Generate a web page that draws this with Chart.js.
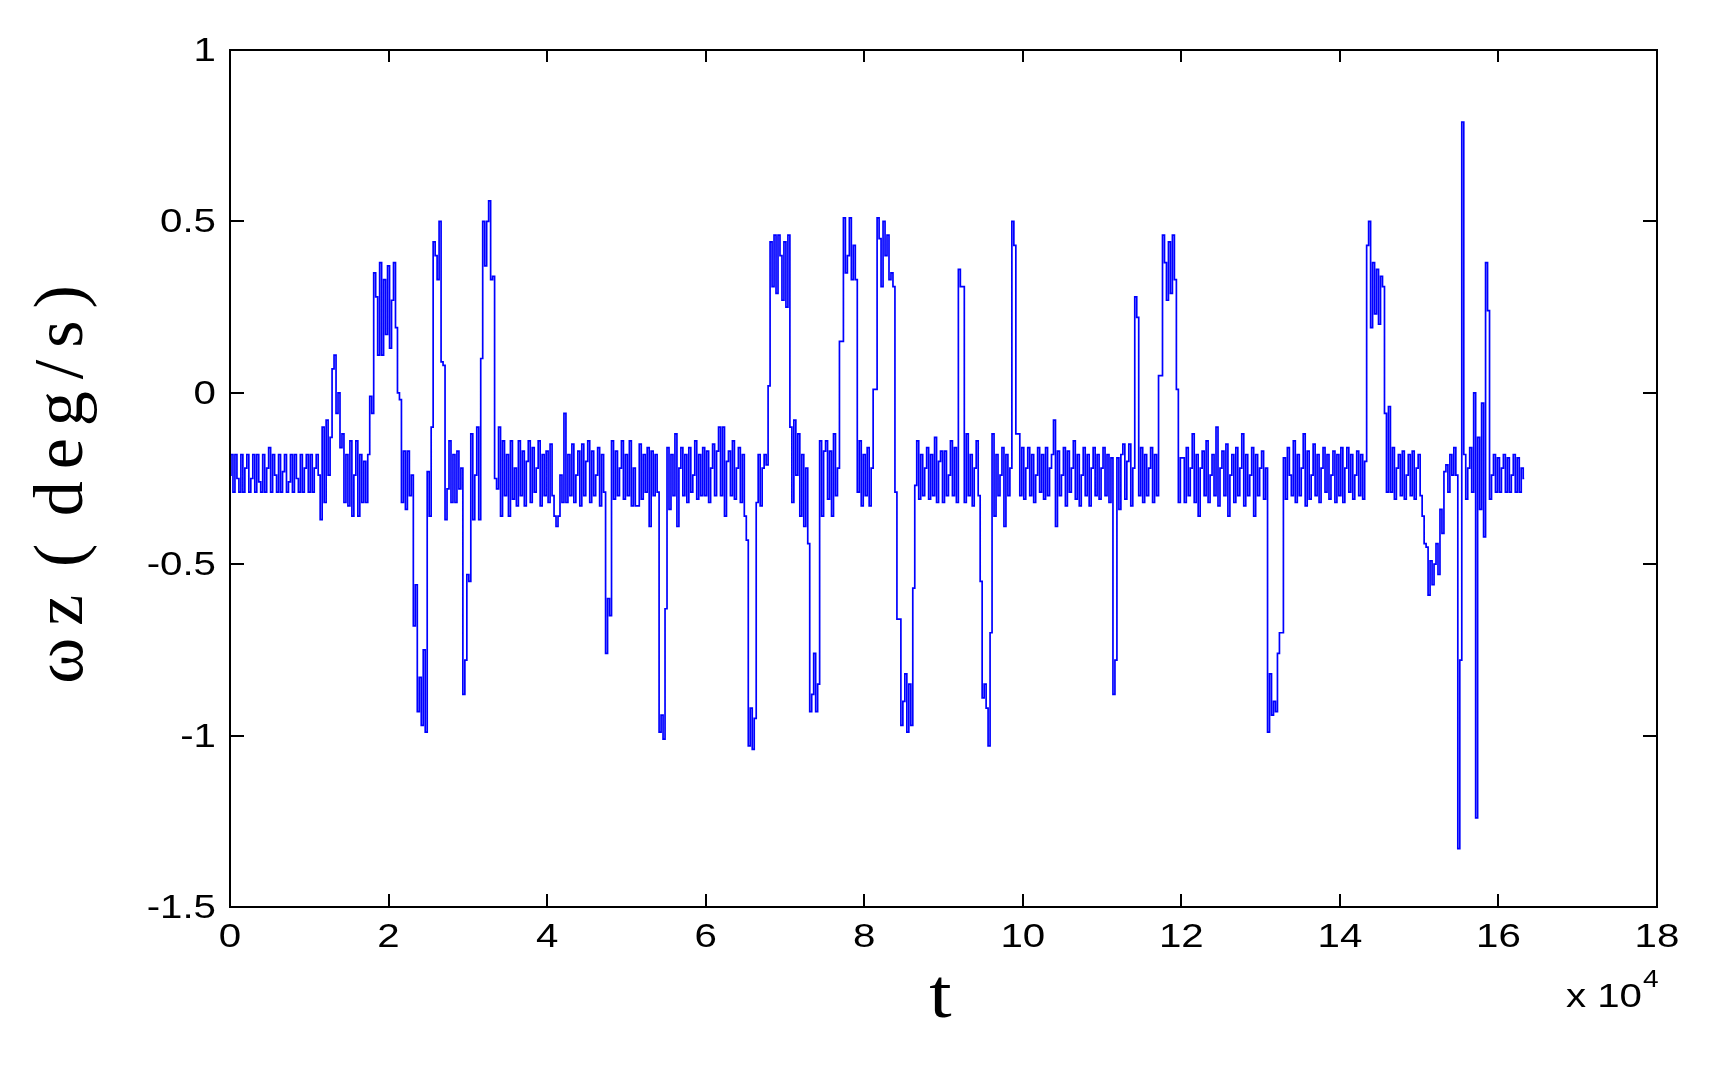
<!DOCTYPE html>
<html lang="en">
<head>
    <meta charset="UTF-8">
    <title>ωz (deg/s) vs t</title>
    <script src="https://cdn.jsdelivr.net/npm/chart.js"></script>
    <style>
        * {
            margin: 0;
            padding: 0;
        }
        body {
            background: #fff;
        }
        #chartContainer {
            width: 1722px;
            height: 1066px;
        }
    </style>
</head>
<body>
    <div id="chartContainer">
        <canvas id="wzChart"></canvas>
    </div>

    <script>
        // sample spacing on the t axis (units of 10^4)
        const dt = 0.025;

        // angular rate wz (deg/s), one row per 10^4 of t (40 samples each)
        const wz = [
            -0.24, -0.18, -0.29, -0.18, -0.25, -0.29, -0.18, -0.29, -0.22, -0.18, -0.29, -0.25, -0.18, -0.29, -0.18, -0.26, -0.29, -0.18, -0.29, -0.22,
            -0.16, -0.29, -0.18, -0.24, -0.29, -0.18, -0.29, -0.23, -0.18, -0.29, -0.26, -0.18, -0.29, -0.18, -0.25, -0.29, -0.18, -0.29, -0.22, -0.18,

            -0.29, -0.18, -0.29, -0.22, -0.18, -0.24, -0.37, -0.10, -0.32, -0.08, -0.24, -0.13,  0.07,  0.11, -0.06,  0.00, -0.16, -0.12, -0.32, -0.18,
            -0.33, -0.14, -0.36, -0.24, -0.14, -0.36, -0.18, -0.32, -0.20, -0.32, -0.18, -0.01, -0.06,  0.35,  0.28,  0.11,  0.38,  0.11,  0.33,  0.17,

             0.37,  0.13,  0.27,  0.38,  0.19,  0.00, -0.02, -0.32, -0.17, -0.34, -0.17, -0.30, -0.24, -0.68, -0.56, -0.93, -0.83, -0.97, -0.75, -0.99,
            -0.23, -0.36, -0.10,  0.44,  0.40,  0.33,  0.50,  0.09,  0.08, -0.37, -0.28, -0.14, -0.32, -0.18, -0.32, -0.17, -0.28, -0.22, -0.88, -0.78,

            -0.53, -0.55, -0.12, -0.37, -0.24, -0.10, -0.37,  0.10,  0.50,  0.37,  0.50,  0.56,  0.33,  0.34, -0.25, -0.28, -0.10, -0.36, -0.14, -0.30,
            -0.18, -0.36, -0.14, -0.31, -0.22, -0.33, -0.14, -0.30, -0.17, -0.33, -0.20, -0.14, -0.32, -0.16, -0.29, -0.22, -0.14, -0.33, -0.18, -0.30,

            -0.17, -0.32, -0.15, -0.30, -0.36, -0.39, -0.36, -0.24, -0.32, -0.06, -0.32, -0.18, -0.30, -0.15, -0.32, -0.24, -0.17, -0.33, -0.15, -0.30,
            -0.20, -0.14, -0.32, -0.17, -0.30, -0.24, -0.16, -0.33, -0.18, -0.29, -0.76, -0.60, -0.65, -0.14, -0.31, -0.17, -0.30, -0.22, -0.14, -0.31,

            -0.18, -0.30, -0.14, -0.33, -0.22, -0.33, -0.33, -0.15, -0.31, -0.18, -0.29, -0.16, -0.39, -0.17, -0.30, -0.18, -0.29, -0.99, -0.94, -1.01,
            -0.63, -0.16, -0.34, -0.18, -0.30, -0.12, -0.39, -0.22, -0.16, -0.30, -0.18, -0.32, -0.16, -0.29, -0.24, -0.14, -0.31, -0.18, -0.30, -0.16,

            -0.30, -0.17, -0.32, -0.22, -0.15, -0.30, -0.17, -0.10, -0.30, -0.10, -0.36, -0.20, -0.17, -0.30, -0.14, -0.31, -0.22, -0.16, -0.32, -0.18,
            -0.36, -0.43, -1.03, -0.92, -1.04, -0.95, -0.32, -0.18, -0.33, -0.22, -0.18, -0.21,  0.02,  0.44,  0.31,  0.46,  0.29,  0.46,  0.40,  0.27,

             0.44,  0.25,  0.46, -0.10, -0.32, -0.08, -0.24, -0.12, -0.36, -0.18, -0.39, -0.22, -0.44, -0.93, -0.88, -0.76, -0.93, -0.85, -0.14, -0.36,
            -0.17, -0.14, -0.31, -0.17, -0.36, -0.12, -0.30, -0.22,  0.15,  0.15,  0.51,  0.35,  0.40,  0.51,  0.33,  0.43,  0.33, -0.29, -0.14, -0.33,

            -0.18, -0.30, -0.16, -0.33, -0.22,  0.01,  0.01,  0.51,  0.45,  0.31,  0.50,  0.40,  0.46,  0.33,  0.35,  0.31, -0.29, -0.66, -0.66, -0.97,
            -0.90, -0.82, -0.99, -0.85, -0.97, -0.57, -0.27, -0.14, -0.31, -0.18, -0.30, -0.22, -0.16, -0.31, -0.18, -0.30, -0.13, -0.32, -0.20, -0.17,

            -0.32, -0.17, -0.30, -0.24, -0.14, -0.30, -0.16, -0.32,  0.36,  0.31,  0.31, -0.32, -0.12, -0.30, -0.18, -0.33, -0.22, -0.14, -0.30, -0.55,
            -0.89, -0.85, -0.92, -1.03, -0.70, -0.12, -0.36, -0.18, -0.30, -0.24, -0.16, -0.39, -0.18, -0.30, -0.22,  0.50,  0.43, -0.12, -0.12, -0.30,

            -0.16, -0.31, -0.22, -0.16, -0.30, -0.18, -0.32, -0.24, -0.16, -0.29, -0.18, -0.31, -0.16, -0.30, -0.22, -0.18, -0.08, -0.39, -0.17, -0.30,
            -0.24, -0.16, -0.33, -0.17, -0.29, -0.22, -0.14, -0.31, -0.18, -0.33, -0.24, -0.16, -0.30, -0.18, -0.33, -0.22, -0.16, -0.30, -0.18, -0.31,

            -0.22, -0.16, -0.30, -0.18, -0.32, -0.19, -0.88, -0.78, -0.19, -0.34, -0.18, -0.15, -0.31, -0.20, -0.15, -0.33, -0.22,  0.28,  0.22, -0.30,
            -0.16, -0.32, -0.18, -0.30, -0.22, -0.16, -0.32, -0.18, -0.30,  0.05,  0.05,  0.46,  0.38,  0.27,  0.44,  0.29,  0.46,  0.33,  0.01, -0.32,

            -0.19, -0.19, -0.32, -0.16, -0.30, -0.22, -0.12, -0.32, -0.18, -0.36, -0.22, -0.17, -0.30, -0.14, -0.32, -0.24, -0.18, -0.30, -0.10, -0.33,
            -0.22, -0.17, -0.30, -0.15, -0.36, -0.24, -0.18, -0.32, -0.16, -0.30, -0.22, -0.12, -0.33, -0.18, -0.30, -0.24, -0.16, -0.36, -0.18, -0.30,

            -0.22, -0.17, -0.31, -0.22, -0.99, -0.82, -0.94, -0.90, -0.93, -0.76, -0.70, -0.70, -0.19, -0.31, -0.16, -0.24, -0.30, -0.14, -0.32, -0.18,
            -0.30, -0.22, -0.12, -0.33, -0.17, -0.31, -0.24, -0.15, -0.30, -0.18, -0.32, -0.22, -0.16, -0.29, -0.18, -0.31, -0.24, -0.17, -0.32, -0.18,

            -0.30, -0.16, -0.32, -0.22, -0.16, -0.29, -0.18, -0.31, -0.24, -0.17, -0.30, -0.18, -0.31, -0.20,  0.43,  0.50,  0.19,  0.38,  0.23,  0.36,
             0.20,  0.34,  0.31, -0.06, -0.29, -0.04, -0.29, -0.16, -0.31, -0.22, -0.18, -0.30, -0.17, -0.31, -0.24, -0.18, -0.30, -0.17, -0.31, -0.22,

            -0.18, -0.30, -0.36, -0.44, -0.45, -0.59, -0.49, -0.56, -0.50, -0.44, -0.53, -0.34, -0.41, -0.23, -0.21, -0.29, -0.18, -0.24, -0.16, -0.24,
            -1.33, -0.78,  0.79, -0.18, -0.31, -0.22, -0.16, -0.29,  0.00, -1.24, -0.13, -0.34, -0.03, -0.42,  0.38,  0.24, -0.31, -0.24, -0.18, -0.29,

            -0.19, -0.29, -0.22, -0.18, -0.29, -0.19, -0.29, -0.24, -0.18, -0.29, -0.19, -0.29, -0.22, -0.25
        ];

        const xRange = [0, 18];
        const yRange = [-1.5, 1];
        const xStep = 2;
        const yStep = 0.5;

        const yTitle = 'ωz ( deg/s)';
        const xTitle = 't';
        const xExponent = ['x 10', '4'];

        const points = wz.map((v, i) => ({ x: +(i * dt).toFixed(3), y: v }));

        // text drawn a bit wider than normal, like the original figure
        function wideText(ctx, text, x, y, align, sx) {
            ctx.save();
            ctx.translate(x, y);
            ctx.scale(sx, 1);
            ctx.textAlign = align;
            ctx.textBaseline = 'alphabetic';
            ctx.fillText(text, 0, 0);
            ctx.restore();
        }

        // matlab style box: inward ticks on all four sides, labels, titles
        const matlabAxes = {
            id: 'matlabAxes',
            afterDraw(chart) {
                const ctx = chart.ctx;
                const a = chart.chartArea;
                const xs = chart.scales.x;
                const ys = chart.scales.y;

                ctx.save();
                ctx.strokeStyle = '#000';
                ctx.lineWidth = 2;
                ctx.strokeRect(a.left, a.top, a.right - a.left, a.bottom - a.top);

                ctx.beginPath();
                xs.ticks.forEach(t => {
                    const px = Math.round(xs.getPixelForValue(t.value));
                    ctx.moveTo(px, a.bottom);
                    ctx.lineTo(px, a.bottom - 13);
                    ctx.moveTo(px, a.top);
                    ctx.lineTo(px, a.top + 12);
                });
                ys.ticks.forEach(t => {
                    const py = Math.round(ys.getPixelForValue(t.value));
                    ctx.moveTo(a.left, py);
                    ctx.lineTo(a.left + 14, py);
                    ctx.moveTo(a.right, py);
                    ctx.lineTo(a.right - 14, py);
                });
                ctx.stroke();

                ctx.fillStyle = '#000';
                ctx.font = '33px "Liberation Sans", Arial, sans-serif';
                xs.ticks.forEach(t => {
                    const px = xs.getPixelForValue(t.value);
                    wideText(ctx, String(t.value), px, a.bottom + 40, 'center', 1.22);
                });
                ys.ticks.forEach(t => {
                    const py = ys.getPixelForValue(t.value);
                    wideText(ctx, String(t.value), a.left - 14, py + 11, 'right', 1.22);
                });

                // x 10^4 multiplier
                wideText(ctx, xExponent[0], a.right - 15, a.bottom + 100, 'right', 1.22);
                ctx.font = '23px "Liberation Sans", Arial, sans-serif';
                wideText(ctx, xExponent[1], a.right - 14, a.bottom + 80, 'left', 1.22);

                // axis titles
                ctx.font = '70px "Liberation Serif", "Times New Roman", serif';
                wideText(ctx, xTitle, (a.left + a.right) / 2 - 3, a.bottom + 110, 'center', 1.15);

                ctx.save();
                ctx.translate(82, (a.top + a.bottom) / 2);
                ctx.rotate(-Math.PI / 2);
                ctx.textAlign = 'center';
                ctx.textBaseline = 'alphabetic';
                ctx.letterSpacing = '12px';
                ctx.wordSpacing = '-14px';
                ctx.fillText(yTitle, 0, 0);
                ctx.restore();

                ctx.restore();
            }
        };

        new Chart(document.getElementById('wzChart'), {
            type: 'line',
            data: {
                datasets: [{
                    label: 'ωz',
                    data: points,
                    borderColor: '#0000ff',
                    borderWidth: 1.7,
                    pointRadius: 0,
                    stepped: 'middle',
                    fill: false
                }]
            },
            options: {
                responsive: true,
                maintainAspectRatio: false,
                animation: false,
                layout: {
                    padding: { top: 50, right: 65, bottom: 0, left: 0 }
                },
                plugins: {
                    legend: { display: false },
                    tooltip: { enabled: false }
                },
                scales: {
                    x: {
                        type: 'linear',
                        min: xRange[0],
                        max: xRange[1],
                        ticks: { stepSize: xStep, display: false },
                        grid: { display: false },
                        border: { display: false },
                        afterFit: s => { s.height = 159; }
                    },
                    y: {
                        min: yRange[0],
                        max: yRange[1],
                        ticks: { stepSize: yStep, display: false },
                        grid: { display: false },
                        border: { display: false },
                        afterFit: s => { s.width = 230; }
                    }
                }
            },
            plugins: [matlabAxes]
        });
    </script>
</body>
</html>
